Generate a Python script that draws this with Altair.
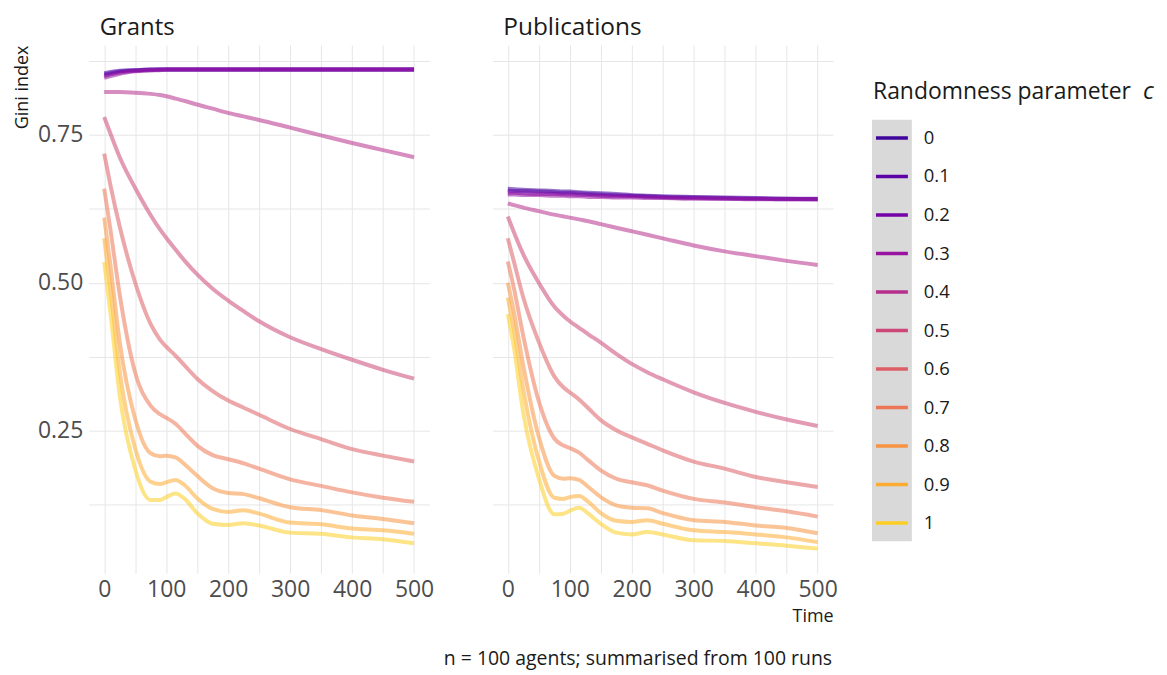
import altair as alt
import pandas as pd

FONT = "Open Sans"

T = [0, 10, 25, 50, 75, 90, 100, 115, 130, 150, 175, 200, 225, 250, 300, 350, 400, 450, 500]
C_LABELS = ["0", "0.1", "0.2", "0.3", "0.4", "0.5", "0.6", "0.7", "0.8", "0.9", "1"]
COLORS = ["#41049d", "#5c01a6", "#7501a8", "#9814a0", "#b62f8c", "#cc4778",
          "#dc5e66", "#ec7655", "#f79342", "#fdac33", "#fcce25"]

# Grants panel (Gini index by time)
grants_c00 = [0.854, 0.856, 0.858, 0.859, 0.860, 0.860, 0.860, 0.860, 0.860, 0.860, 0.860, 0.860, 0.860, 0.860, 0.860, 0.860, 0.860, 0.860, 0.860]
grants_c01 = [0.852, 0.854, 0.857, 0.859, 0.860, 0.860, 0.860, 0.860, 0.860, 0.860, 0.860, 0.860, 0.860, 0.860, 0.860, 0.860, 0.860, 0.860, 0.860]
grants_c02 = [0.849, 0.852, 0.855, 0.858, 0.859, 0.860, 0.860, 0.860, 0.860, 0.860, 0.860, 0.860, 0.860, 0.860, 0.860, 0.860, 0.860, 0.860, 0.860]
grants_c03 = [0.846, 0.849, 0.853, 0.857, 0.859, 0.859, 0.860, 0.860, 0.860, 0.860, 0.860, 0.860, 0.860, 0.860, 0.860, 0.860, 0.860, 0.860, 0.860]
grants_c04 = [0.822, 0.822, 0.822, 0.821, 0.819, 0.817, 0.815, 0.811, 0.807, 0.801, 0.794, 0.787, 0.781, 0.775, 0.762, 0.749, 0.736, 0.724, 0.712]
grants_c05 = [0.780, 0.752, 0.712, 0.660, 0.614, 0.590, 0.576, 0.556, 0.537, 0.514, 0.490, 0.470, 0.452, 0.435, 0.408, 0.388, 0.370, 0.353, 0.338]
grants_c06 = [0.718, 0.665, 0.595, 0.500, 0.430, 0.404, 0.392, 0.377, 0.360, 0.338, 0.317, 0.301, 0.289, 0.277, 0.253, 0.236, 0.219, 0.208, 0.198]
grants_c07 = [0.659, 0.590, 0.480, 0.348, 0.292, 0.278, 0.272, 0.262, 0.246, 0.225, 0.209, 0.202, 0.195, 0.186, 0.168, 0.157, 0.146, 0.137, 0.130]
grants_c08 = [0.610, 0.530, 0.400, 0.270, 0.212, 0.207, 0.208, 0.205, 0.193, 0.174, 0.153, 0.145, 0.143, 0.136, 0.121, 0.116, 0.107, 0.101, 0.094]
grants_c09 = [0.575, 0.490, 0.350, 0.220, 0.164, 0.160, 0.163, 0.167, 0.158, 0.136, 0.118, 0.113, 0.116, 0.110, 0.095, 0.092, 0.085, 0.082, 0.076]
grants_c10 = [0.535, 0.450, 0.310, 0.185, 0.133, 0.133, 0.138, 0.144, 0.135, 0.111, 0.093, 0.091, 0.094, 0.090, 0.078, 0.076, 0.070, 0.067, 0.060]

# Publications panel
pubs_c00 = [0.659, 0.658, 0.657, 0.656, 0.655, 0.654, 0.654, 0.653, 0.652, 0.651, 0.650, 0.648, 0.647, 0.646, 0.645, 0.644, 0.643, 0.642, 0.642]
pubs_c01 = [0.656, 0.655, 0.655, 0.654, 0.653, 0.652, 0.652, 0.651, 0.650, 0.649, 0.648, 0.647, 0.646, 0.645, 0.644, 0.643, 0.642, 0.642, 0.641]
pubs_c02 = [0.652, 0.652, 0.651, 0.650, 0.650, 0.649, 0.649, 0.648, 0.648, 0.647, 0.646, 0.646, 0.645, 0.644, 0.643, 0.642, 0.642, 0.641, 0.641]
pubs_c03 = [0.649, 0.649, 0.648, 0.648, 0.647, 0.647, 0.646, 0.646, 0.645, 0.645, 0.644, 0.644, 0.643, 0.643, 0.642, 0.642, 0.641, 0.641, 0.641]
pubs_c04 = [0.634, 0.631, 0.627, 0.621, 0.615, 0.612, 0.610, 0.607, 0.604, 0.599, 0.593, 0.587, 0.581, 0.575, 0.563, 0.553, 0.545, 0.537, 0.530]
pubs_c05 = [0.612, 0.585, 0.548, 0.500, 0.460, 0.444, 0.435, 0.424, 0.413, 0.399, 0.380, 0.363, 0.349, 0.337, 0.315, 0.297, 0.282, 0.269, 0.258]
pubs_c06 = [0.575, 0.535, 0.475, 0.400, 0.342, 0.323, 0.315, 0.303, 0.288, 0.268, 0.251, 0.239, 0.228, 0.217, 0.198, 0.186, 0.172, 0.163, 0.155]
pubs_c07 = [0.536, 0.490, 0.410, 0.300, 0.237, 0.225, 0.221, 0.213, 0.200, 0.183, 0.169, 0.163, 0.158, 0.149, 0.135, 0.129, 0.121, 0.114, 0.105]
pubs_c08 = [0.500, 0.450, 0.360, 0.240, 0.174, 0.169, 0.170, 0.167, 0.155, 0.138, 0.124, 0.120, 0.119, 0.111, 0.099, 0.096, 0.090, 0.086, 0.077]
pubs_c09 = [0.475, 0.420, 0.320, 0.200, 0.137, 0.135, 0.138, 0.140, 0.130, 0.111, 0.098, 0.096, 0.099, 0.093, 0.082, 0.079, 0.075, 0.070, 0.062]
pubs_c10 = [0.447, 0.390, 0.280, 0.170, 0.109, 0.110, 0.115, 0.120, 0.110, 0.093, 0.078, 0.075, 0.079, 0.075, 0.065, 0.064, 0.060, 0.056, 0.051]

GRANTS = [grants_c00, grants_c01, grants_c02, grants_c03, grants_c04, grants_c05,
          grants_c06, grants_c07, grants_c08, grants_c09, grants_c10]
PUBS = [pubs_c00, pubs_c01, pubs_c02, pubs_c03, pubs_c04, pubs_c05,
        pubs_c06, pubs_c07, pubs_c08, pubs_c09, pubs_c10]

CAPTION = "n = 100 agents; summarised from 100 runs"


def long_frame(series_list):
    rows = []
    for lab, vals in zip(C_LABELS, series_list):
        for t, v in zip(T, vals):
            rows.append({"c": lab, "t": t, "gini": v})
    return pd.DataFrame(rows)


df_g = long_frame(GRANTS)
df_p = long_frame(PUBS)

W, H = 342, 530
GRID = "#e6e6e6"
color_scale = alt.Scale(domain=C_LABELS, range=COLORS)
x_scale = alt.Scale(domain=[-25, 525], nice=False, zero=False)
y_scale = alt.Scale(domain=[0.0095, 0.9015], nice=False, zero=False)

X_VALUES = [0, 50, 100, 150, 200, 250, 300, 350, 400, 450, 500]
Y_VALUES = [0.125, 0.25, 0.375, 0.5, 0.625, 0.75, 0.875]


def x_axis(title):
    return alt.Axis(title=title, values=X_VALUES,
                    labelExpr="datum.value % 100 == 0 ? datum.label : ''",
                    ticks=False, domain=False, labelFontSize=23, labelColor="#4d4d4d",
                    labelPadding=5, gridColor=GRID, gridWidth=1, labelFont=FONT,
                    titleFont=FONT, titleFontSize=18, titleFontWeight="normal",
                    titleColor="#1a1a1a", titleAnchor="end", titlePadding=6)


LINE_KW = dict(strokeWidth=4, opacity=0.55, interpolate="monotone")

y_axis_left = alt.Axis(values=Y_VALUES, format=".2f",
                       labelExpr="(datum.value * 4) % 1 == 0 ? datum.label : ''",
                       ticks=False, domain=False, labelFontSize=23, labelColor="#4d4d4d",
                       labelPadding=6, gridColor=GRID, gridWidth=1, labelFont=FONT,
                       title="Gini index", titleFont=FONT, titleFontSize=18,
                       titleFontWeight="normal", titleColor="#1a1a1a", titleAnchor="end",
                       titlePadding=6)

y_axis_right = alt.Axis(values=Y_VALUES, labels=False, ticks=False, domain=False,
                        gridColor=GRID, gridWidth=1, title=None)


def panel_title(txt, size):
    return alt.TitleParams(txt, anchor="start", frame="group", dx=11, fontSize=size,
                           fontWeight="normal", font=FONT, color="#1a1a1a", offset=5)


left = alt.Chart(df_g).mark_line(**LINE_KW).encode(
    x=alt.X("t:Q", scale=x_scale, axis=x_axis(None)),
    y=alt.Y("gini:Q", scale=y_scale, axis=y_axis_left),
    color=alt.Color("c:N", scale=color_scale, legend=None),
).properties(width=W, height=H, title=panel_title("Grants", 24))

right_lines = alt.Chart(df_p).mark_line(**LINE_KW).encode(
    x=alt.X("t:Q", scale=x_scale, axis=x_axis("Time")),
    y=alt.Y("gini:Q", scale=y_scale, axis=y_axis_right),
    color=alt.Color("c:N", scale=color_scale, legend=None),
)
caption = alt.Chart(pd.DataFrame({"txt": [CAPTION]})).mark_text(
    align="right", baseline="middle", fontSize=19.5, font=FONT, color="#1a1a1a"
).encode(x=alt.value(341), y=alt.value(616), text="txt:N")
right = alt.layer(right_lines, caption).properties(
    width=W, height=H, title=panel_title("Publications", 24.5))

# Legend panel
df_leg = pd.DataFrame({"c": C_LABELS})
leg_y = alt.Y("c:N", scale=alt.Scale(type="point", domain=C_LABELS, range=[93.3, 479.7], padding=0),
              axis=None)
leg_bg = alt.Chart(pd.DataFrame({"k": [0]})).mark_rect(color="#d9d9d9").encode(
    x=alt.value(-24), x2=alt.value(16), y=alt.value(75), y2=alt.value(498))
leg_keys = alt.Chart(df_leg).mark_rule(strokeWidth=3.5).encode(
    x=alt.value(-20), x2=alt.value(12), y=leg_y,
    color=alt.Color("c:N", scale=color_scale, legend=None))
leg_labels = alt.Chart(df_leg).mark_text(align="left", baseline="middle", fontSize=18.5,
                                         font=FONT, color="#1a1a1a").encode(
    x=alt.value(28), y=leg_y, text="c:N")
leg_title = alt.Chart(pd.DataFrame({"txt": ["Randomness parameter"]})).mark_text(
    align="left", baseline="alphabetic", fontSize=23, font=FONT, color="#1a1a1a"
).encode(x=alt.value(-23), y=alt.value(54), text="txt:N")
leg_title_c = alt.Chart(pd.DataFrame({"txt": ["c"]})).mark_text(
    align="left", baseline="alphabetic", fontSize=24, font=FONT, fontStyle="italic", color="#1a1a1a"
).encode(x=alt.value(248), y=alt.value(54), text="txt:N")
legend = alt.layer(leg_bg, leg_keys, leg_labels, leg_title, leg_title_c).properties(width=40, height=H)

chart = alt.HConcatChart(hconcat=[left, right, legend], spacing=63, bounds="flush",
                         background="white").configure_view(strokeWidth=0)

chart.save("out.html", embed_options={"renderer": "svg", "actions": False})
